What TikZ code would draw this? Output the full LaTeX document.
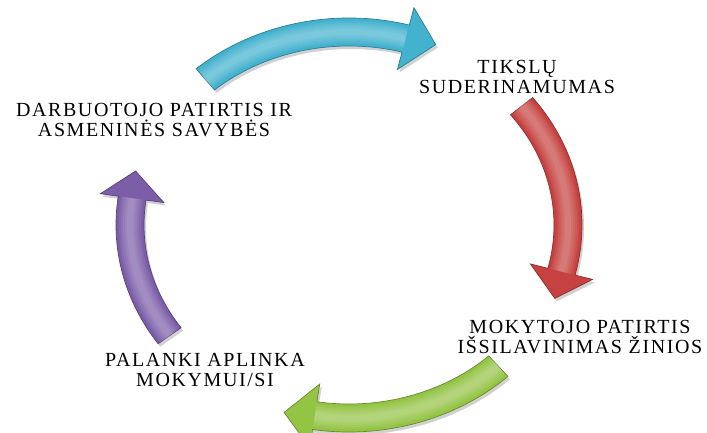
\documentclass[tikz,border=0pt]{standalone}
\usepackage{fontspec}
\setmainfont{Liberation Serif}
\newfontfamily\lblfont[LetterSpace=8]{Liberation Serif}
\usepackage{tikz}
\definecolor{cAqua}{RGB}{66,178,206}
\definecolor{cRed}{RGB}{198,66,64}
\definecolor{cGreen}{RGB}{148,196,68}
\definecolor{cViolet}{RGB}{124,94,168}
% curved block arrow on the cycle: start angle, tip angle, head base angle
\newcommand{\cycarrow}[3]{(#1:233pt and 207pt)
  arc[start angle=#1, end angle=#3, x radius=233pt, y radius=207pt]
  -- (#3:251pt and 225pt) -- (#2:222pt and 196pt) -- (#3:187pt and 161pt)
  -- (#3:205pt and 179pt)
  arc[start angle=#3, end angle=#1, x radius=205pt, y radius=179pt] -- cycle}

\begin{document}
\begin{tikzpicture} [x=1pt, y=1pt,
    lbl/.style={font=\lblfont\fontsize{20}{20.5}\selectfont, align=center, inner sep=0pt},
    shadow/.style={fill=black, opacity=.18, shift={(2,-3)}},
    glow/.style={draw=white, opacity=.07}
  ]
    \useasboundingbox (0,0) rectangle (707,432);
    \clip (0,0) rectangle (707,432);

    \begin{scope}[shift={(349,207)}]
      \foreach \s/\e/\col in {131/67/cAqua, 38/-22/cRed, -47/-107/cGreen, 215/164/cViolet}
      {
        \pgfmathsetmacro\b{\e+8}
        \path[shadow] \cycarrow{\s}{\e}{\b};
        \path[fill=\col, draw=\col!70!black, line width=.7pt] \cycarrow{\s}{\e}{\b};
        \foreach \w in {22,18,14,10,6}
          \path[glow, line width=\w pt] (\s:219pt and 193pt)
            arc[start angle=\s, end angle=\b, x radius=219pt, y radius=193pt];
      }
    \end{scope}

    \node[lbl] (exp) at (154,312) {DARBUOTOJO PATIRTIS IR\\ASMENINĖS SAVYBĖS};
    \node[lbl] (goals) at (517,355) {TIKSLŲ\\SUDERINAMUMAS};
    \node[lbl] (teacher) at (580,95) {MOKYTOJO PATIRTIS\\IŠSILAVINIMAS ŽINIOS};
    \node[lbl] (env) at (205,62) {PALANKI APLINKA\\MOKYMUI/SI};
\end{tikzpicture}
\end{document}
